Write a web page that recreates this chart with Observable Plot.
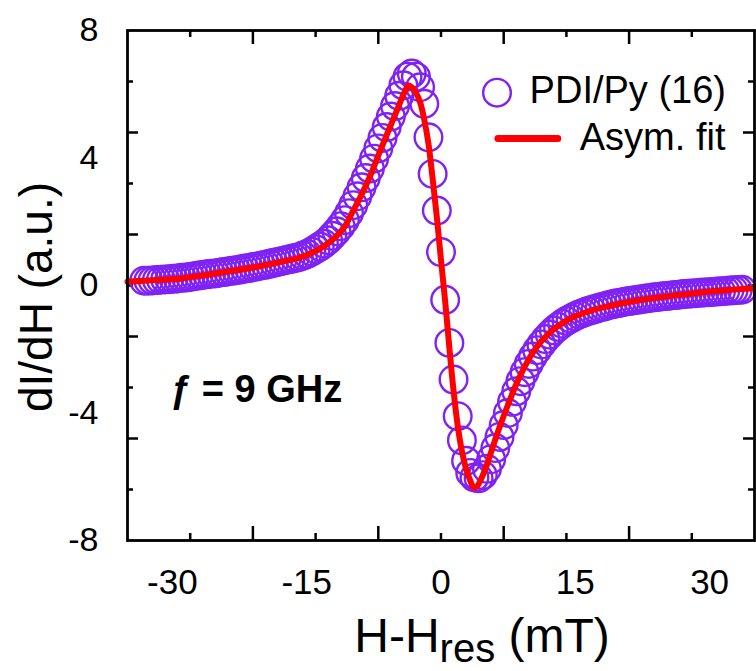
<!DOCTYPE html>
<html><head><meta charset="utf-8">
<script src="https://cdn.jsdelivr.net/npm/d3@7"></script>
<script src="https://cdn.jsdelivr.net/npm/@observablehq/plot@0.6"></script>
<style>html,body{margin:0;padding:0;background:#fff;overflow:hidden}</style>
</head><body><div id="chart"></div>
<script>
// ---- data ----
const fieldX = [
-35.5,-35,-34.5,-34,-33.5,-33,-32.5,-32,-31.5,-31,-30.5,-30,-29.5,-29,-28.5,-28,-27.5,-27,-26.5,-26,
-25.5,-25,-24.5,-24,-23.5,-23,-22.5,-22,-21.5,-21,-20.5,-20,-19.5,-19,-18.5,-18,-17.5,-17,-16.5,-16,
-15.5,-15,-14.5,-14,-13.5,-13,-12.5,-12,-11.5,-11,-10.5,-10,-9.5,-9,-8.5,-8,-7.5,-7,-6.5,-6,
-5.5,-5,-4.5,-4,-3.5,-3,-2.5,-2,-1.5,-1,-0.5,0,0.5,1,1.5,2,2.5,3,3.5,4,
4.5,5,5.5,6,6.5,7,7.5,8,8.5,9,9.5,10,10.5,11,11.5,12,12.5,13,13.5,14,
14.5,15,15.5,16,16.5,17,17.5,18,18.5,19,19.5,20,20.5,21,21.5,22,22.5,23,23.5,24,
24.5,25,25.5,26,26.5,27,27.5,28,28.5,29,29.5,30,30.5,31,31.5,32,32.5,33,33.5,34,
34.5,35,35.5,36];
const signalY = [
0.15,0.15,0.16,0.17,0.18,0.19,0.20,0.21,0.22,0.24,0.25,0.27,0.29,0.31,0.33,0.35,0.37,0.38,0.40,0.42,
0.44,0.46,0.48,0.50,0.53,0.55,0.58,0.60,0.63,0.65,0.68,0.71,0.74,0.77,0.80,0.83,0.86,0.89,0.94,0.99,
1.06,1.14,1.22,1.31,1.42,1.56,1.70,1.86,2.05,2.27,2.52,2.80,3.08,3.37,3.67,3.98,4.30,4.63,4.97,5.30,
5.63,5.95,6.28,6.55,6.65,6.55,6.22,5.70,4.65,3.50,2.35,1.05,-0.45,-1.80,-2.95,-4.10,-4.86,-5.50,-5.88,-6.02,
-6.05,-5.95,-5.75,-5.45,-5.10,-4.75,-4.38,-4.00,-3.65,-3.32,-3.00,-2.72,-2.46,-2.23,-2.03,-1.85,-1.68,-1.54,-1.41,-1.30,
-1.20,-1.11,-1.04,-0.97,-0.91,-0.86,-0.81,-0.77,-0.73,-0.69,-0.66,-0.62,-0.59,-0.56,-0.54,-0.51,-0.49,-0.47,-0.45,-0.43,
-0.41,-0.39,-0.37,-0.36,-0.34,-0.33,-0.31,-0.30,-0.29,-0.27,-0.26,-0.25,-0.24,-0.23,-0.22,-0.21,-0.20,-0.19,-0.18,-0.17,
-0.16,-0.15,-0.14,-0.13];
const fitX = [-37.5,-34,-31,-28,-25,-22,-19,-17,-15.5,-14.5,-13.5,-12.5,-11.5,-10.5,-9.5,-8.5,-7.5,-6.5,-5.5,-4.8,
-4.3,-3.9,-3.5,-3,-2.5,-2,-1.5,-1,-0.5,0,0.5,1,1.5,2,2.5,3,3.5,3.9,4.3,5,
5.5,6,7,8,9,10,11,12,13,14,15,16.5,18,20,22,25,28,31,34,37.5];
const fitY = [0.12,0.17,0.23,0.34,0.46,0.59,0.75,0.87,1.02,1.15,1.33,1.55,1.86,2.35,2.85,3.42,4.08,4.72,5.35,5.80,
6.10,6.27,6.22,6.05,5.75,5.20,4.45,3.35,2.15,0.80,-0.50,-1.95,-3.30,-4.40,-5.20,-5.75,-6.12,-6.33,-6.30,-5.95,
-5.62,-5.22,-4.45,-3.75,-3.10,-2.55,-2.10,-1.75,-1.48,-1.27,-1.10,-0.92,-0.78,-0.65,-0.54,-0.41,-0.31,-0.22,-0.15,-0.09];
const xTickLabels = [-30, -15, 0, 15, 30];
const xMajorTicks = [-22.5, -7.5, 7.5, 22.5];
const xMinorTicks = [-30, -15, 0, 15, 30];
const yTickLabels = [-8, -4, 0, 4, 8];
const yMajorTicks = [-4.8, -1.6, 1.6, 4.8];
const yMinorTicks = [-6.4, -3.2, 0, 3.2, 6.4];
const seriesNames = ["PDI/Py (16)", "Asym. fit"];
const annotationText = ["ƒ = 9 GHz"];

// ---- layout / style ----
const W = 756, H = 671, mL = 127, mR = 2, mT = 30, mB = 131;
const innerW = W - mL - mR, innerH = H - mT - mB;
const purple = "#7f22f5", red = "#ff0000";
const LABEL_SPREAD = 1.071;
const font = "'Liberation Sans', Arial, Helvetica, sans-serif";

const circles = fieldX.map((x, i) => ({x, y: signalY[i]}));
const fit = fitX.map((x, i) => ({x, y: fitY[i]}));

const tickStyle = {stroke: "#000", strokeWidth: 2.5};
const plot = Plot.plot({
  width: W, height: H,
  marginLeft: mL, marginRight: mR, marginTop: mT, marginBottom: mB,
  style: {fontFamily: font, color: "#000", background: "#fff", overflow: "visible"},
  x: {domain: [-37.5, 37.5], axis: null},
  y: {domain: [-8, 8], axis: null},
  marks: [
    // ticks (inward, mirrored on all four sides)
    Plot.tickX(xMajorTicks, {x: d => d, insetTop: innerH - 14, ...tickStyle}),
    Plot.tickX(xMinorTicks, {x: d => d, insetTop: innerH - 7, ...tickStyle}),
    Plot.tickX(xMajorTicks, {x: d => d, insetBottom: innerH - 14, ...tickStyle}),
    Plot.tickX(xMinorTicks, {x: d => d, insetBottom: innerH - 7, ...tickStyle}),
    Plot.tickY(yMajorTicks, {y: d => d, insetRight: innerW - 11, ...tickStyle}),
    Plot.tickY(yMinorTicks, {y: d => d, insetRight: innerW - 6, ...tickStyle}),
    Plot.tickY(yMajorTicks, {y: d => d, insetLeft: innerW - 11, ...tickStyle}),
    Plot.tickY(yMinorTicks, {y: d => d, insetLeft: innerW - 6, ...tickStyle}),
    // tick labels
    Plot.text(xTickLabels, {x: d => d * LABEL_SPREAD, frameAnchor: "bottom", dy: 42, text: d => String(d), fontSize: 35, lineAnchor: "middle"}),
    Plot.text(yTickLabels, {y: d => d, frameAnchor: "left", dx: -29, text: d => String(d), fontSize: 34, textAnchor: "end", lineAnchor: "middle"}),
    // data
    Plot.dot(circles, {x: "x", y: "y", r: 13.8, stroke: purple, strokeWidth: 2.4, fill: "none"}),
    Plot.line(fit, {x: "x", y: "y", stroke: red, strokeWidth: 6, curve: "catmull-rom"}),
    // legend
    Plot.dot([seriesNames[0]], {x: 6.7, y: 6.05, r: 13.8, stroke: purple, strokeWidth: 2.4, fill: "none"}),
    Plot.text([seriesNames[0]], {x: 10.6, y: 5.74, text: d => d, textAnchor: "start", lineAnchor: "bottom", fontSize: 38}),
    Plot.ruleY([4.61], {y: d => d, x1: 6.87, x2: 14.03, stroke: red, strokeWidth: 7, strokeLinecap: "round"}),
    Plot.text([seriesNames[1]], {x: 16.6, y: 4.24, text: d => d, textAnchor: "start", lineAnchor: "bottom", fontSize: 38}),
    // annotation
    Plot.text(annotationText, {x: -32.4, y: -3.64, text: d => d, textAnchor: "start", lineAnchor: "bottom", fontSize: 38, fontWeight: "bold"}),
    Plot.frame({stroke: "#000", strokeWidth: 2.8})
  ]
});

const svg = d3.select(plot);
svg.append("text")
  .attr("transform", "translate(52,297) rotate(-90)")
  .attr("text-anchor", "middle")
  .attr("font-size", 46)
  .attr("fill", "#000")
  .text("dI/dH (a.u.)");
const xt = svg.append("text")
  .attr("x", 482).attr("y", 652)
  .attr("text-anchor", "middle")
  .attr("font-size", 48)
  .attr("fill", "#000")
  .style("white-space", "pre");
xt.append("tspan").text("H-H");
xt.append("tspan").attr("dy", 10).attr("font-size", 40).text("res");
xt.append("tspan").attr("dy", -10).text(" (mT)");

document.getElementById("chart").appendChild(plot);
</script>
</body></html>
